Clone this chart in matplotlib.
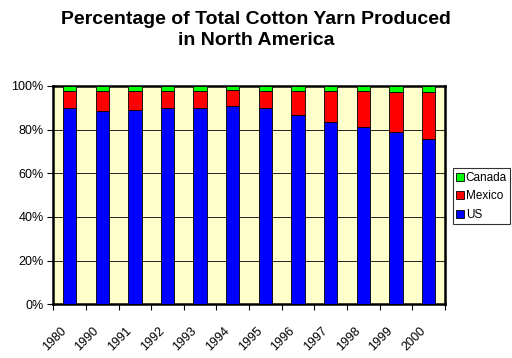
import numpy as np
import matplotlib.pyplot as plt
import matplotlib.transforms as mtransforms
from matplotlib.ticker import PercentFormatter

plt.rcParams['font.family'] = ['Liberation Sans', 'DejaVu Sans']

years = ['1980', '1990', '1991', '1992', '1993', '1994',
         '1995', '1996', '1997', '1998', '1999', '2000']
us = [0.897, 0.883, 0.892, 0.898, 0.899, 0.907,
      0.897, 0.866, 0.835, 0.810, 0.791, 0.757]
mexico = [0.082, 0.094, 0.087, 0.081, 0.080, 0.075,
          0.082, 0.113, 0.144, 0.167, 0.183, 0.217]
canada = [0.021, 0.023, 0.021, 0.021, 0.021, 0.018,
          0.021, 0.021, 0.021, 0.023, 0.026, 0.026]

us = np.array(us)
mexico = np.array(mexico)
canada = np.array(canada)
x = np.arange(len(years))

fig = plt.figure(figsize=(5.12, 3.58), dpi=100)
ax = fig.add_axes([0.104, 0.15, 0.765, 0.61])
ax.set_facecolor('#FFFFCC')

w = 0.41
b1 = ax.bar(x, us, w, color='#0000FF', edgecolor='black', linewidth=0.6, label='US', zorder=3)
b2 = ax.bar(x, mexico, w, bottom=us, color='#FF0000', edgecolor='black', linewidth=0.6, label='Mexico', zorder=3)
b3 = ax.bar(x, canada, w, bottom=us + mexico, color='#00FF00', edgecolor='black', linewidth=0.6, label='Canada', zorder=3)

ax.set_xlim(-0.5, len(years) - 0.5)
ax.set_ylim(0, 1)
ax.set_yticks(np.arange(0, 1.01, 0.2))
ax.yaxis.set_major_formatter(PercentFormatter(1.0, decimals=0))
ax.yaxis.grid(True, color='black', linewidth=0.6, zorder=1)

ax.set_xticks(np.arange(-0.5, len(years), 1), minor=False)
ax.set_xticklabels([])
ax.set_xticks(x, minor=True)
ax.set_xticklabels(years, minor=True, rotation=45, ha='right', va='center',
                   rotation_mode='anchor', fontsize=9)
ax.tick_params(axis='x', which='minor', length=0, pad=18)
ax.tick_params(axis='x', which='major', length=4, width=0.8, direction='out')
ax.tick_params(axis='y', length=4, width=0.8, labelsize=9, pad=3)

# nudge the rotated year labels a little to the left
shift = mtransforms.ScaledTranslation(-5 / 100, 0, fig.dpi_scale_trans)
for lbl in ax.get_xticklabels(minor=True):
    lbl.set_transform(lbl.get_transform() + shift)

for s in ax.spines.values():
    s.set_linewidth(1.8)

fig.suptitle('Percentage of Total Cotton Yarn Produced\nin North America',
             fontsize=14, fontweight='bold', x=0.5, y=0.97, linespacing=1.3)

handles = [b3, b2, b1]
leg = fig.legend(handles, ['Canada', 'Mexico', 'US'], loc='upper right',
                 bbox_to_anchor=(0.997, 0.53), fontsize=8.5, frameon=True,
                 fancybox=False, edgecolor='black', handlelength=0.65, handleheight=0.65,
                 handletextpad=0.15, borderpad=0.3, labelspacing=0.55, borderaxespad=0)
leg.get_frame().set_linewidth(0.8)

fig.savefig('out.png', dpi=100)
